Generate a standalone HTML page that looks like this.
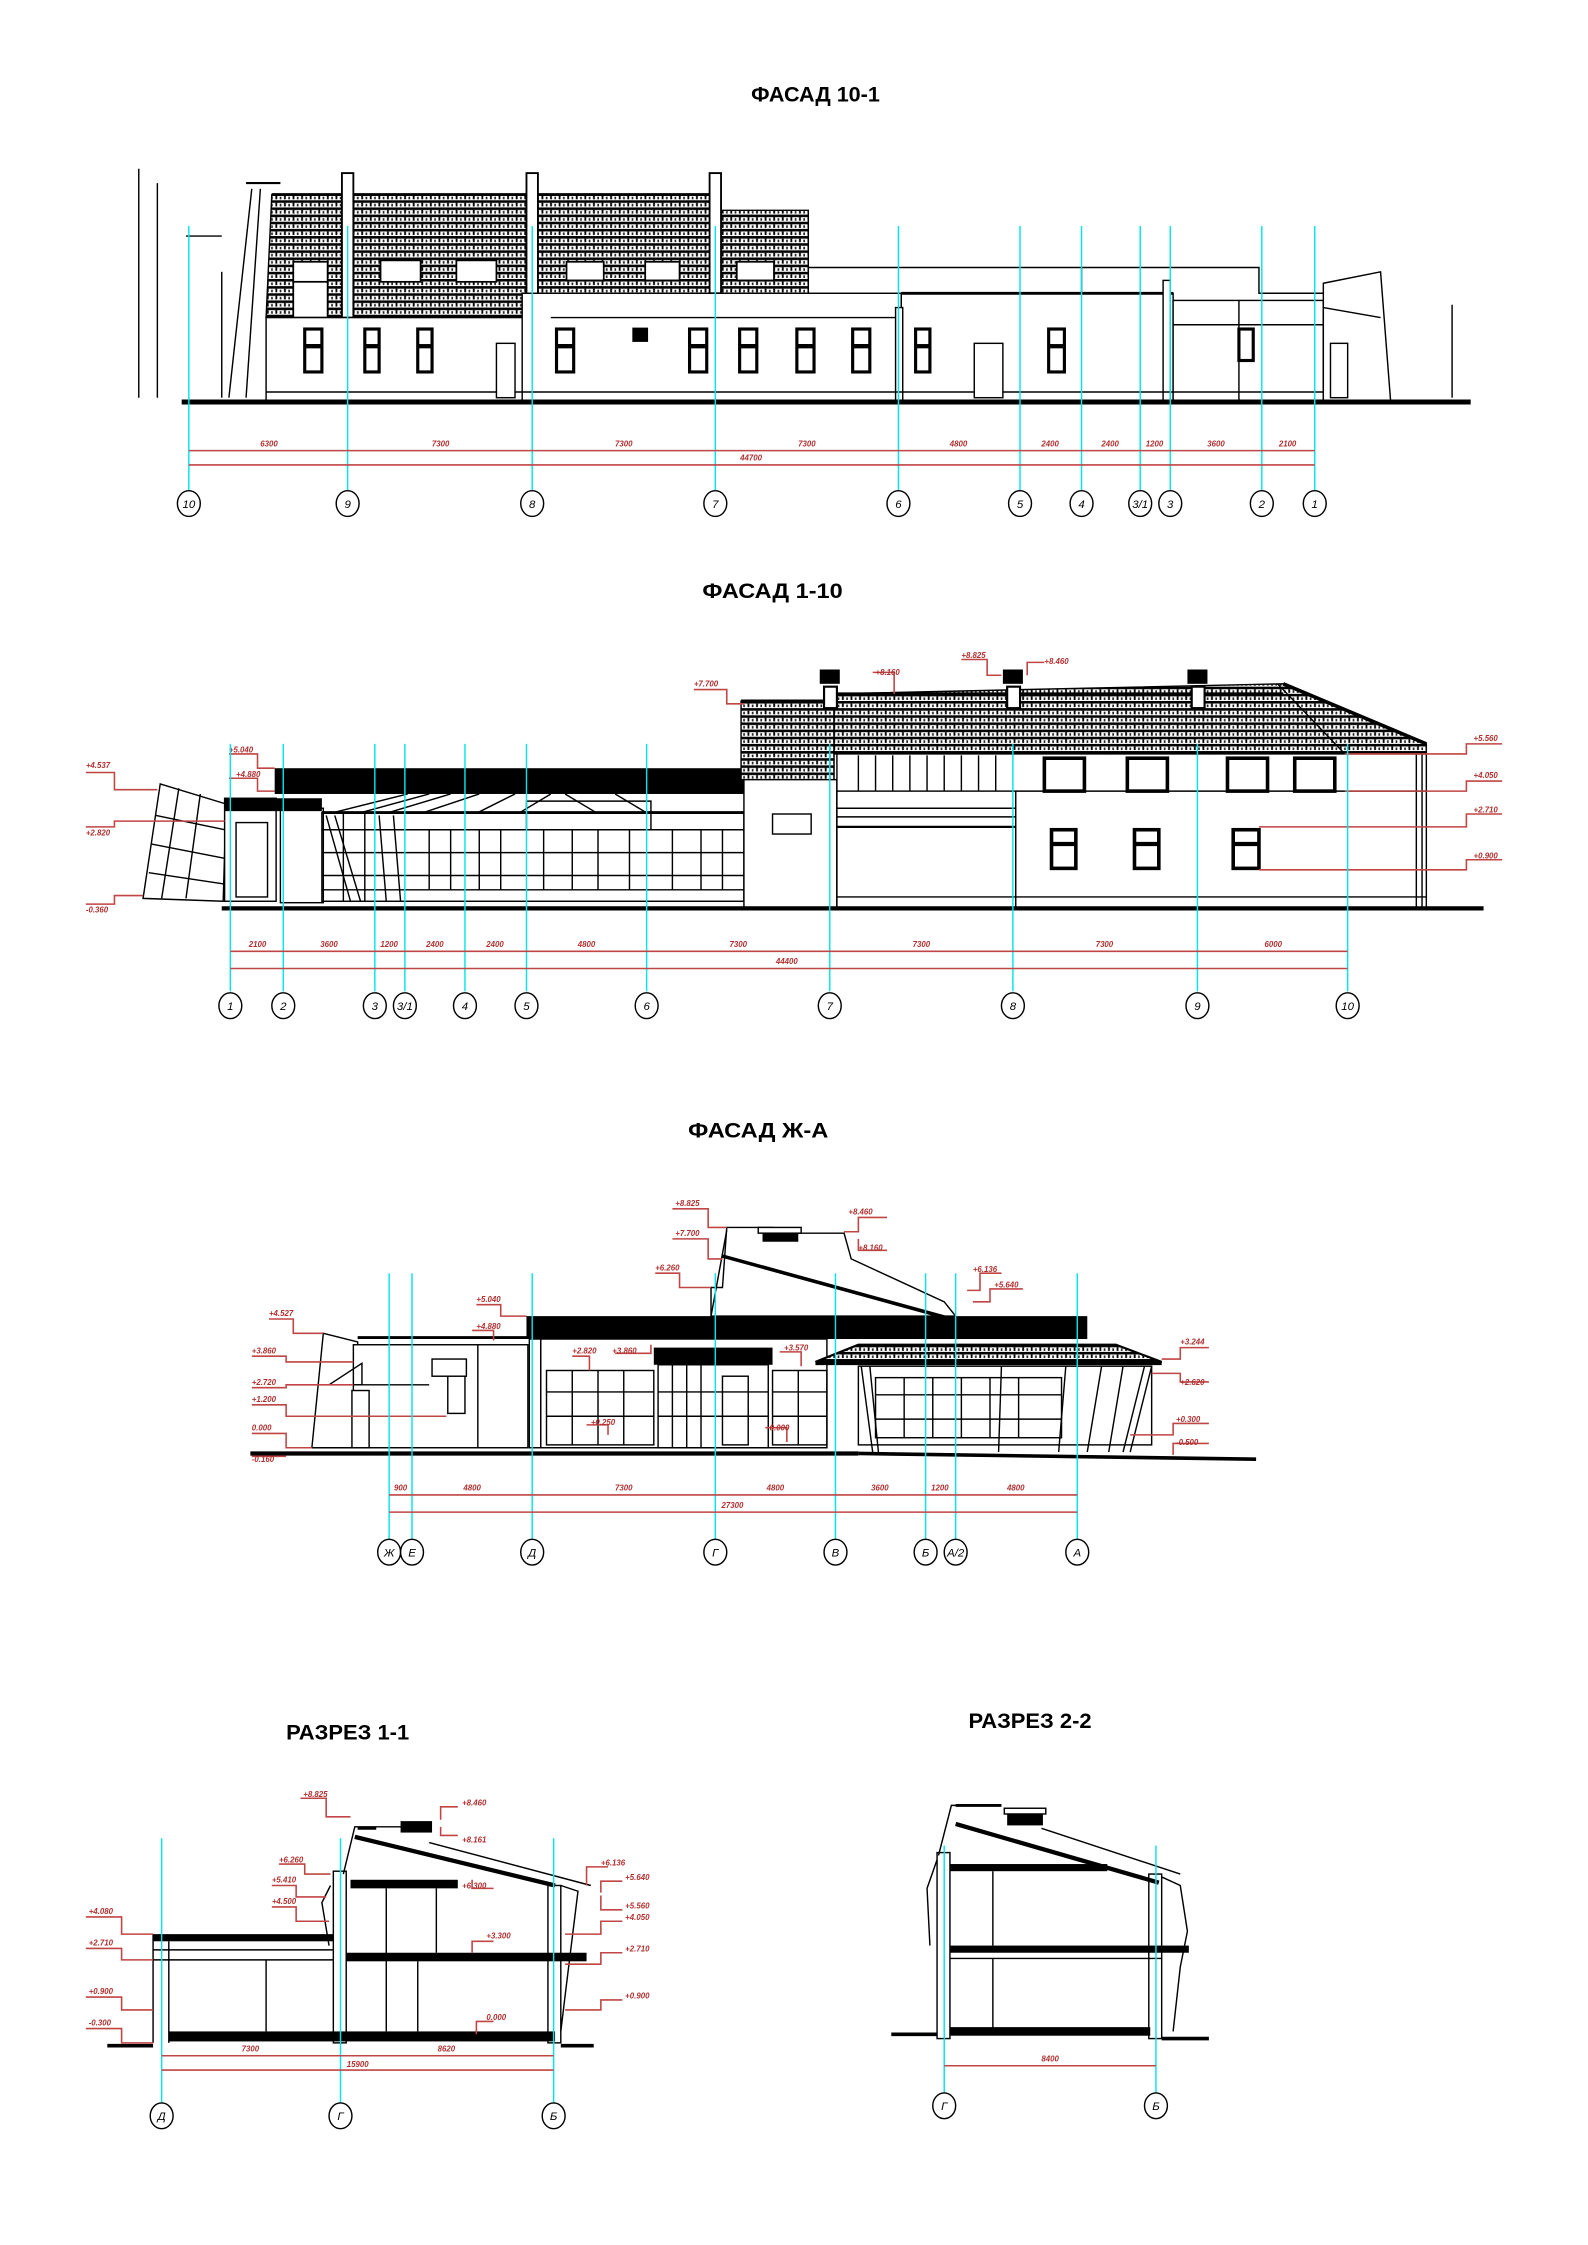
<!DOCTYPE html>
<html><head><meta charset="utf-8"><style>
html,body{margin:0;padding:0;background:#fff}
svg{display:block}
.t{font-family:"Liberation Sans Narrow","Liberation Sans",sans-serif;font-weight:bold;font-size:15px;fill:#000}
.r{font-family:"Liberation Sans Narrow","Liberation Sans",sans-serif;font-size:5.5px;fill:#b03030;font-weight:bold;font-style:italic}
.ax{stroke:#00e5ee;stroke-width:1}
.dm{stroke:#c04545;stroke-width:1.1;fill:none}
.k{stroke:#000;fill:none;stroke-width:1}
.kw{stroke:#000;fill:#fff;stroke-width:1}
.kb{fill:#000}
.c{font-family:"Liberation Sans Narrow","Liberation Sans",sans-serif;font-size:8px;font-style:italic;text-anchor:middle;fill:#000}
</style></head><body>
<svg width="1588" height="2245" viewBox="0 0 1110 1569.3" preserveAspectRatio="none" xmlns="http://www.w3.org/2000/svg">
<defs>
<pattern id="br" width="6" height="5" patternUnits="userSpaceOnUse">
<rect width="6" height="5" fill="#fff"/>
<rect x="0" y="0" width="6" height="1.8" fill="#000"/>
<rect x="0.5" y="1.8" width="1.3" height="2.5" fill="#000"/>
<rect x="3.5" y="2.5" width="1.2" height="1.8" fill="#222"/>
</pattern>
</defs>

<!-- ============ FACADE 10-1 ============ -->
<text class="t" x="570" y="71" text-anchor="middle" textLength="90" lengthAdjust="spacingAndGlyphs">ФАСАД 10-1</text>
<line x1="97" y1="118" x2="97" y2="278" class="k" stroke-width="0.8"/>
<line x1="110" y1="128" x2="110" y2="278" class="k" stroke-width="0.8"/>
<line x1="1015" y1="213" x2="1015" y2="278" class="k" stroke-width="0.8"/>
<polygon points="186,222 190,136 502,136 502,147 565,147 565,205 365,205 365,222" fill="url(#br)" stroke="#000"/>
<line x1="190" y1="136" x2="502" y2="136" stroke="#000" stroke-width="2"/>
<line x1="172" y1="128" x2="196" y2="128" stroke="#000" stroke-width="1.5"/>
<line x1="176" y1="132" x2="160" y2="278" class="k"/>
<line x1="182" y1="132" x2="172" y2="278" class="k"/>
<line x1="130" y1="165" x2="155" y2="165" class="k" stroke-width="1.5"/>
<line x1="155" y1="190" x2="155" y2="278" class="k"/>
<g fill="#fff" stroke="#000" stroke-width="1.2">
<rect x="205" y="183" width="24" height="14"/><rect x="205" y="197" width="24" height="25"/>
<rect x="266" y="182" width="28" height="15"/><rect x="319" y="182" width="28" height="15"/>
<rect x="396" y="183" width="26" height="13"/><rect x="451" y="183" width="24" height="13"/><rect x="515" y="183" width="26" height="13"/>
</g>
<g fill="#fff" stroke="#000" stroke-width="1.3">
<rect x="239" y="121" width="8" height="101"/><rect x="368" y="121" width="8" height="101"/><rect x="496" y="121" width="8" height="84"/>
</g>
<rect x="186" y="222" width="180" height="58" class="kw"/>
<rect x="365" y="205" width="265" height="75" class="kw"/>
<line x1="385" y1="222" x2="820" y2="222" class="k" stroke-width="1.5"/>
<polyline points="565,187 880,187 880,205 925,205" class="k" stroke-width="1.5"/>
<rect x="630" y="205" width="190" height="75" class="kw"/>
<line x1="630" y1="205" x2="820" y2="205" stroke="#000" stroke-width="2"/>
<line x1="756" y1="187" x2="756" y2="205" class="k"/>
<rect x="813" y="196" width="5" height="84" class="kw"/>
<rect x="820" y="210" width="105" height="70" class="kw"/>
<line x1="820" y1="227" x2="925" y2="227" class="k"/>
<line x1="866" y1="210" x2="866" y2="280" class="k"/>
<polygon points="925,198 965,190 972,280 925,280" class="kw"/>
<line x1="925" y1="215" x2="965" y2="222" class="k"/>
<rect x="626" y="215" width="5" height="65" class="kw"/>
<line x1="186" y1="274" x2="925" y2="274" class="k" stroke-width="1.5"/>
<g fill="#fff" stroke="#000" stroke-width="2.2">
<rect x="213" y="230" width="12" height="30"/><rect x="255" y="230" width="10" height="30"/><rect x="292" y="230" width="10" height="30"/>
<rect x="389" y="230" width="12" height="30"/><rect x="482" y="230" width="12" height="30"/><rect x="517" y="230" width="12" height="30"/>
<rect x="557" y="230" width="12" height="30"/><rect x="596" y="230" width="12" height="30"/><rect x="640" y="230" width="10" height="30"/>
<rect x="733" y="230" width="11" height="30"/><rect x="866" y="230" width="10" height="22"/>
</g>
<g stroke="#000" stroke-width="3"><line x1="213" y1="242" x2="225" y2="242"/><line x1="255" y1="242" x2="265" y2="242"/><line x1="292" y1="242" x2="302" y2="242"/><line x1="389" y1="242" x2="401" y2="242"/><line x1="482" y1="242" x2="494" y2="242"/><line x1="517" y1="242" x2="529" y2="242"/><line x1="557" y1="242" x2="569" y2="242"/><line x1="596" y1="242" x2="608" y2="242"/><line x1="640" y1="242" x2="650" y2="242"/><line x1="733" y1="242" x2="744" y2="242"/></g>
<rect x="442" y="229" width="11" height="10" class="kb"/>
<rect x="347" y="240" width="13" height="38" class="kw" stroke-width="1.3"/>
<rect x="681" y="240" width="20" height="38" class="kw" stroke-width="1.3"/>
<rect x="930" y="240" width="12" height="38" class="kw" stroke-width="1.3"/>
<line x1="127" y1="281" x2="1028" y2="281" stroke="#000" stroke-width="3.5"/>
<g class="ax">
<line x1="132" y1="158" x2="132" y2="343"/><line x1="243" y1="158" x2="243" y2="343"/><line x1="372" y1="158" x2="372" y2="343"/><line x1="500" y1="158" x2="500" y2="343"/><line x1="628" y1="158" x2="628" y2="343"/><line x1="713" y1="158" x2="713" y2="343"/><line x1="756" y1="158" x2="756" y2="343"/><line x1="797" y1="158" x2="797" y2="343"/><line x1="818" y1="158" x2="818" y2="343"/><line x1="882" y1="158" x2="882" y2="343"/><line x1="919" y1="158" x2="919" y2="343"/>
</g>
<line x1="132" y1="315" x2="919" y2="315" class="dm"/><line x1="132" y1="325" x2="919" y2="325" class="dm"/>
<g class="r" text-anchor="middle"><text x="188" y="312">6300</text><text x="308" y="312">7300</text><text x="436" y="312">7300</text><text x="564" y="312">7300</text><text x="670" y="312">4800</text><text x="734" y="312">2400</text><text x="776" y="312">2400</text><text x="807" y="312">1200</text><text x="850" y="312">3600</text><text x="900" y="312">2100</text><text x="525" y="322">44700</text></g>
<g fill="#fff" stroke="#000"><ellipse cx="132" cy="352" rx="8" ry="9"/><ellipse cx="243" cy="352" rx="8" ry="9"/><ellipse cx="372" cy="352" rx="8" ry="9"/><ellipse cx="500" cy="352" rx="8" ry="9"/><ellipse cx="628" cy="352" rx="8" ry="9"/><ellipse cx="713" cy="352" rx="8" ry="9"/><ellipse cx="756" cy="352" rx="8" ry="9"/><ellipse cx="797" cy="352" rx="8" ry="9"/><ellipse cx="818" cy="352" rx="8" ry="9"/><ellipse cx="882" cy="352" rx="8" ry="9"/><ellipse cx="919" cy="352" rx="8" ry="9"/></g>
<g class="c"><text x="132" y="355">10</text><text x="243" y="355">9</text><text x="372" y="355">8</text><text x="500" y="355">7</text><text x="628" y="355">6</text><text x="713" y="355">5</text><text x="756" y="355">4</text><text x="797" y="355">3/1</text><text x="818" y="355">3</text><text x="882" y="355">2</text><text x="919" y="355">1</text></g>

<!-- ============ FACADE 1-10 ============ -->
<text class="t" x="540" y="418" text-anchor="middle" textLength="98" lengthAdjust="spacingAndGlyphs">ФАСАД 1-10</text>
<polygon points="112,548 158,562 156,630 100,628" class="kw"/>
<g class="k"><line x1="125" y1="551" x2="113" y2="628"/><line x1="140" y1="555" x2="130" y2="628"/><line x1="109" y1="570" x2="157" y2="580"/><line x1="106" y1="590" x2="157" y2="600"/><line x1="104" y1="610" x2="157" y2="618"/></g>
<rect x="157" y="558" width="36" height="72" class="kw"/>
<rect x="157" y="558" width="68" height="9" class="kb"/>
<g class="k"><rect x="165" y="575" width="22" height="52"/></g>
<rect x="192" y="537" width="330" height="18" class="kb"/>
<g class="k" stroke-width="0.8"><line x1="225" y1="570" x2="285" y2="555"/><line x1="245" y1="570" x2="300" y2="555"/><line x1="265" y1="570" x2="315" y2="555"/><line x1="290" y1="570" x2="335" y2="555"/><line x1="330" y1="570" x2="360" y2="555"/><line x1="360" y1="570" x2="385" y2="555"/><line x1="395" y1="555" x2="420" y2="570"/><line x1="430" y1="555" x2="455" y2="570"/></g>
<rect x="225" y="568" width="295" height="62" class="kw"/>
<line x1="225" y1="568" x2="520" y2="568" stroke="#000" stroke-width="2"/>
<polyline points="368,580 368,560 455,560 455,580" class="k" stroke-width="1.5"/>
<g class="k" stroke-width="1.4">
<line x1="225" y1="580" x2="520" y2="580"/><line x1="225" y1="596" x2="520" y2="596"/><line x1="225" y1="612" x2="520" y2="612"/><line x1="225" y1="622" x2="520" y2="622"/>
<line x1="240" y1="568" x2="240" y2="630"/><line x1="255" y1="568" x2="255" y2="630"/><line x1="300" y1="580" x2="300" y2="622"/><line x1="315" y1="580" x2="315" y2="622"/><line x1="335" y1="580" x2="335" y2="622"/><line x1="350" y1="580" x2="350" y2="622"/><line x1="380" y1="580" x2="380" y2="622"/><line x1="400" y1="580" x2="400" y2="622"/><line x1="418" y1="580" x2="418" y2="622"/><line x1="440" y1="580" x2="440" y2="622"/><line x1="470" y1="580" x2="470" y2="622"/><line x1="490" y1="580" x2="490" y2="622"/><line x1="505" y1="580" x2="505" y2="622"/>
<line x1="228" y1="570" x2="245" y2="630"/><line x1="234" y1="570" x2="252" y2="630"/><line x1="265" y1="570" x2="270" y2="630"/><line x1="275" y1="570" x2="280" y2="630"/>
</g>
<rect x="196" y="565" width="30" height="66" class="k"/>
<rect x="518" y="490" width="65" height="55" fill="url(#br)" stroke="#000"/>
<line x1="518" y1="490" x2="583" y2="490" stroke="#000" stroke-width="2"/>
<rect x="520" y="545" width="65" height="90" class="kw"/>
<rect x="540" y="569" width="27" height="14" class="kw" stroke-width="2.2"/>
<polygon points="583,485 897,478 997,520 997,527 583,527" fill="url(#br)" stroke="#000"/>
<line x1="583" y1="485" x2="897" y2="485" stroke="#000" stroke-width="2"/>
<line x1="897" y1="478" x2="997" y2="520" stroke="#000" stroke-width="2.5"/>
<line x1="893" y1="478" x2="940" y2="527" class="k"/>
<g fill="#fff" stroke="#000" stroke-width="1.5"><rect x="576" y="480" width="9" height="15"/><rect x="704" y="480" width="9" height="15"/><rect x="833" y="480" width="9" height="15"/></g>
<g class="kb"><rect x="573" y="468" width="14" height="10"/><rect x="701" y="468" width="14" height="10"/><rect x="830" y="468" width="14" height="10"/></g>
<rect x="585" y="527" width="412" height="108" class="kw"/>
<rect x="585" y="553" width="125" height="82" class="kw"/>
<line x1="710" y1="553" x2="997" y2="553" class="k" stroke-width="1.5"/>
<line x1="585" y1="578" x2="710" y2="578" stroke="#000" stroke-width="1.5"/>
<g class="k" stroke-width="1.5"><line x1="585" y1="565" x2="710" y2="565"/><line x1="585" y1="571" x2="710" y2="571"/></g>
<g class="k" stroke-width="2"><line x1="600" y1="528" x2="600" y2="553"/><line x1="612" y1="528" x2="612" y2="553"/><line x1="624" y1="528" x2="624" y2="553"/><line x1="636" y1="528" x2="636" y2="553"/><line x1="648" y1="528" x2="648" y2="553"/><line x1="660" y1="528" x2="660" y2="553"/><line x1="672" y1="528" x2="672" y2="553"/><line x1="684" y1="528" x2="684" y2="553"/><line x1="696" y1="528" x2="696" y2="553"/></g>
<g fill="#fff" stroke="#000" stroke-width="2.5"><rect x="730" y="530" width="28" height="23"/><rect x="788" y="530" width="28" height="23"/><rect x="858" y="530" width="28" height="23"/><rect x="905" y="530" width="28" height="23"/></g>
<g fill="#fff" stroke="#000" stroke-width="2.5"><rect x="735" y="580" width="17" height="27"/><rect x="793" y="580" width="17" height="27"/><rect x="862" y="580" width="18" height="27"/></g>
<g stroke="#000" stroke-width="3"><line x1="735" y1="590" x2="752" y2="590"/><line x1="793" y1="590" x2="810" y2="590"/><line x1="862" y1="590" x2="880" y2="590"/></g>
<g class="k"><line x1="990" y1="527" x2="990" y2="635"/><line x1="994" y1="527" x2="994" y2="635"/><line x1="585" y1="627" x2="997" y2="627"/></g>
<line x1="155" y1="635" x2="1037" y2="635" stroke="#000" stroke-width="3"/>
<g class="dm"><polyline points="60,540 80,540 80,552 110,552"/><polyline points="60,578 80,578 80,574 157,574"/><polyline points="60,632 80,632 80,626 100,626"/><polyline points="160,527 180,527 180,537 192,537"/><polyline points="160,544 180,544 180,553 192,553"/><polyline points="485,482 508,482 508,492 520,492"/><polyline points="610,470 625,470 625,485"/><polyline points="672,461 690,461 690,472 700,472"/><polyline points="730,463 718,463 718,472"/><polyline points="1050,520 1025,520 1025,527 940,527"/><polyline points="1050,546 1025,546 1025,553 940,553"/><polyline points="1050,569 1025,569 1025,578 880,578"/><polyline points="1050,601 1025,601 1025,608 880,608"/></g>
<g class="r"><text x="60" y="537">+4.537</text><text x="60" y="584">+2.820</text><text x="60" y="638">-0.360</text><text x="160" y="526">+5.040</text><text x="165" y="543">+4.880</text><text x="485" y="480">+7.700</text><text x="612" y="472">+8.160</text><text x="672" y="460">+8.825</text><text x="730" y="464">+8.460</text><text x="1030" y="518">+5.560</text><text x="1030" y="544">+4.050</text><text x="1030" y="568">+2.710</text><text x="1030" y="600">+0.900</text></g>
<g class="ax"><line x1="161" y1="520" x2="161" y2="693"/><line x1="198" y1="520" x2="198" y2="693"/><line x1="262" y1="520" x2="262" y2="693"/><line x1="283" y1="520" x2="283" y2="693"/><line x1="325" y1="520" x2="325" y2="693"/><line x1="368" y1="520" x2="368" y2="693"/><line x1="452" y1="520" x2="452" y2="693"/><line x1="580" y1="520" x2="580" y2="693"/><line x1="708" y1="520" x2="708" y2="693"/><line x1="837" y1="520" x2="837" y2="693"/><line x1="942" y1="520" x2="942" y2="693"/></g>
<line x1="161" y1="665" x2="942" y2="665" class="dm"/><line x1="161" y1="677" x2="942" y2="677" class="dm"/>
<g class="r" text-anchor="middle"><text x="180" y="662">2100</text><text x="230" y="662">3600</text><text x="272" y="662">1200</text><text x="304" y="662">2400</text><text x="346" y="662">2400</text><text x="410" y="662">4800</text><text x="516" y="662">7300</text><text x="644" y="662">7300</text><text x="772" y="662">7300</text><text x="890" y="662">6000</text><text x="550" y="674">44400</text></g>
<g fill="#fff" stroke="#000"><ellipse cx="161" cy="703" rx="8" ry="9"/><ellipse cx="198" cy="703" rx="8" ry="9"/><ellipse cx="262" cy="703" rx="8" ry="9"/><ellipse cx="283" cy="703" rx="8" ry="9"/><ellipse cx="325" cy="703" rx="8" ry="9"/><ellipse cx="368" cy="703" rx="8" ry="9"/><ellipse cx="452" cy="703" rx="8" ry="9"/><ellipse cx="580" cy="703" rx="8" ry="9"/><ellipse cx="708" cy="703" rx="8" ry="9"/><ellipse cx="837" cy="703" rx="8" ry="9"/><ellipse cx="942" cy="703" rx="8" ry="9"/></g>
<g class="c"><text x="161" y="706">1</text><text x="198" y="706">2</text><text x="262" y="706">3</text><text x="283" y="706">3/1</text><text x="325" y="706">4</text><text x="368" y="706">5</text><text x="452" y="706">6</text><text x="580" y="706">7</text><text x="708" y="706">8</text><text x="837" y="706">9</text><text x="942" y="706">10</text></g>

<!-- ============ FACADE Ж-А ============ -->
<text class="t" x="530" y="795" text-anchor="middle" textLength="98" lengthAdjust="spacingAndGlyphs">ФАСАД Ж-А</text>
<polygon points="226,932 250,938 252,1012 218,1012" class="kw"/>
<rect x="247" y="940" width="122" height="72" class="kw"/>
<line x1="250" y1="935" x2="369" y2="935" stroke="#000" stroke-width="2"/>
<line x1="247" y1="968" x2="300" y2="968" class="k"/>
<polygon points="230,968 253,953 253,968" class="k"/>
<rect x="302" y="950" width="24" height="12" class="kw"/>
<rect x="313" y="962" width="12" height="26" class="kw" stroke-width="2"/>
<rect x="246" y="972" width="12" height="40" class="kw"/>
<line x1="334" y1="940" x2="334" y2="1012" class="k"/>
<polygon points="508,858 540,858 540,862 590,862 595,880 660,910 668,920 515,920 497,920 497,900 505,900" class="kw"/>
<line x1="508" y1="860" x2="497" y2="920" class="k" stroke-width="1.5"/>
<line x1="505" y1="878" x2="665" y2="922" stroke="#000" stroke-width="2.5"/>
<rect x="533" y="862" width="25" height="6" class="kb"/>
<rect x="530" y="858" width="30" height="4" class="kw"/>
<rect x="368" y="920" width="392" height="16" class="kb"/>
<rect x="370" y="936" width="8" height="76" class="kw"/>
<rect x="378" y="936" width="200" height="76" class="kw"/>
<g class="k" stroke-width="1.5"><rect x="382" y="958" width="75" height="52"/><line x1="382" y1="973" x2="457" y2="973"/><line x1="382" y1="990" x2="457" y2="990"/><line x1="400" y1="958" x2="400" y2="1010"/><line x1="418" y1="958" x2="418" y2="1010"/><line x1="436" y1="958" x2="436" y2="1010"/>
<rect x="540" y="958" width="38" height="52"/><line x1="540" y1="973" x2="578" y2="973"/><line x1="540" y1="990" x2="578" y2="990"/><line x1="558" y1="958" x2="558" y2="1010"/></g>
<rect x="457" y="942" width="83" height="12" class="kb"/>
<g class="k" stroke-width="1.5"><rect x="460" y="954" width="77" height="58"/><line x1="470" y1="954" x2="470" y2="1012"/><line x1="480" y1="954" x2="480" y2="1012"/><line x1="490" y1="954" x2="490" y2="1012"/><rect x="505" y="962" width="18" height="48"/><line x1="460" y1="973" x2="537" y2="973"/><line x1="460" y1="990" x2="537" y2="990"/></g>
<polygon points="570,952 600,940 780,940 812,952" fill="url(#br)" stroke="#000" stroke-width="1.5"/>
<line x1="570" y1="953" x2="812" y2="953" stroke="#000" stroke-width="2.5"/>
<rect x="600" y="955" width="205" height="55" class="kw"/>
<g class="k" stroke-width="1.5"><rect x="612" y="963" width="130" height="42"/><line x1="612" y1="975" x2="742" y2="975"/><line x1="612" y1="992" x2="742" y2="992"/><line x1="632" y1="963" x2="632" y2="1005"/><line x1="652" y1="963" x2="652" y2="1005"/><line x1="672" y1="963" x2="672" y2="1005"/><line x1="692" y1="963" x2="692" y2="1005"/><line x1="712" y1="963" x2="712" y2="1005"/>
<line x1="602" y1="955" x2="610" y2="1015"/><line x1="608" y1="955" x2="614" y2="1015"/><line x1="700" y1="955" x2="698" y2="1015"/><line x1="745" y1="955" x2="740" y2="1015"/><line x1="770" y1="955" x2="760" y2="1015"/><line x1="785" y1="955" x2="775" y2="1015"/><line x1="800" y1="955" x2="785" y2="1015"/><line x1="805" y1="955" x2="790" y2="1015"/></g>
<line x1="175" y1="1016" x2="600" y2="1016" stroke="#000" stroke-width="3"/>
<line x1="600" y1="1016" x2="878" y2="1020" stroke="#000" stroke-width="2.5"/>
<g class="dm"><polyline points="188,922 205,922 205,932 226,932"/><polyline points="176,948 200,948 200,952 247,952"/><polyline points="176,970 200,970 200,968 247,968"/><polyline points="176,982 200,982 200,990 312,990"/><polyline points="176,1002 200,1002 200,1012 218,1012"/><polyline points="176,1018 200,1018"/><polyline points="333,912 350,912 350,920 368,920"/><polyline points="330,930 345,930 345,937"/><polyline points="470,845 495,845 495,858 508,858"/><polyline points="470,866 495,866 495,880 505,880"/><polyline points="458,890 475,890 475,900 497,900"/><polyline points="620,851 600,851 600,861 590,861"/><polyline points="620,874 600,874 600,866"/><polyline points="700,890 685,890 685,902 676,902"/><polyline points="715,901 692,901 692,910 680,910"/><polyline points="845,942 825,942 825,950 812,950"/><polyline points="845,966 825,966 825,960 805,960"/><polyline points="845,995 820,995 820,1003 790,1003"/><polyline points="845,1009 820,1009 820,1017"/><polyline points="400,948 412,948 412,958"/><polyline points="430,946 455,946 455,940"/><polyline points="545,945 560,945 560,955"/><polyline points="410,996 425,996 425,1003"/><polyline points="535,998 550,998 550,1008"/></g>
<g class="r"><text x="188" y="920">+4.527</text><text x="176" y="946">+3.860</text><text x="176" y="968">+2.720</text><text x="176" y="980">+1.200</text><text x="176" y="1000">0.000</text><text x="176" y="1022">-0.160</text><text x="333" y="910">+5.040</text><text x="333" y="929">+4.880</text><text x="472" y="843">+8.825</text><text x="472" y="864">+7.700</text><text x="458" y="888">+6.260</text><text x="593" y="849">+8.460</text><text x="600" y="874">+8.160</text><text x="680" y="889">+6.136</text><text x="695" y="900">+5.640</text><text x="825" y="940">+3.244</text><text x="825" y="968">+2.620</text><text x="822" y="994">+0.300</text><text x="822" y="1010">-0.500</text><text x="400" y="946">+2.820</text><text x="428" y="946">+3.860</text><text x="548" y="944">+3.570</text><text x="413" y="996">+0.250</text><text x="538" y="1000">0.000</text></g>
<g class="ax"><line x1="272" y1="890" x2="272" y2="1076"/><line x1="288" y1="890" x2="288" y2="1076"/><line x1="372" y1="890" x2="372" y2="1076"/><line x1="500" y1="890" x2="500" y2="1076"/><line x1="584" y1="890" x2="584" y2="1076"/><line x1="647" y1="890" x2="647" y2="1076"/><line x1="668" y1="890" x2="668" y2="1076"/><line x1="753" y1="890" x2="753" y2="1076"/></g>
<line x1="272" y1="1045" x2="753" y2="1045" class="dm"/><line x1="272" y1="1057" x2="753" y2="1057" class="dm"/>
<g class="r" text-anchor="middle"><text x="280" y="1042">900</text><text x="330" y="1042">4800</text><text x="436" y="1042">7300</text><text x="542" y="1042">4800</text><text x="615" y="1042">3600</text><text x="657" y="1042">1200</text><text x="710" y="1042">4800</text><text x="512" y="1054">27300</text></g>
<g fill="#fff" stroke="#000"><ellipse cx="272" cy="1085" rx="8" ry="9"/><ellipse cx="288" cy="1085" rx="8" ry="9"/><ellipse cx="372" cy="1085" rx="8" ry="9"/><ellipse cx="500" cy="1085" rx="8" ry="9"/><ellipse cx="584" cy="1085" rx="8" ry="9"/><ellipse cx="647" cy="1085" rx="8" ry="9"/><ellipse cx="668" cy="1085" rx="8" ry="9"/><ellipse cx="753" cy="1085" rx="8" ry="9"/></g>
<g class="c"><text x="272" y="1088">Ж</text><text x="288" y="1088">Е</text><text x="372" y="1088">Д</text><text x="500" y="1088">Г</text><text x="584" y="1088">В</text><text x="647" y="1088">Б</text><text x="668" y="1088">А/2</text><text x="753" y="1088">А</text></g>

<!-- ============ SECTION 1-1 ============ -->
<text class="t" x="243" y="1216" text-anchor="middle" textLength="86" lengthAdjust="spacingAndGlyphs">РАЗРЕЗ 1-1</text>
<rect x="107" y="1352" width="135" height="5" class="kb"/>
<g class="k"><line x1="107" y1="1352" x2="107" y2="1428"/><line x1="118" y1="1357" x2="118" y2="1428"/><line x1="107" y1="1363" x2="238" y2="1363"/><line x1="107" y1="1370" x2="238" y2="1370"/><line x1="186" y1="1370" x2="186" y2="1420"/></g>
<rect x="233" y="1308" width="9" height="120" class="kw"/>
<rect x="383" y="1318" width="9" height="110" class="kw"/>
<rect x="242" y="1365" width="168" height="6" class="kb"/>
<rect x="245" y="1314" width="75" height="6" class="kb"/>
<g class="k"><line x1="270" y1="1320" x2="270" y2="1420"/><line x1="305" y1="1320" x2="305" y2="1365"/><line x1="292" y1="1371" x2="292" y2="1420"/></g>
<polyline points="240,1310 248,1277 282,1277" class="k" stroke-width="1.5"/>
<line x1="250" y1="1278" x2="263" y2="1278" stroke="#000" stroke-width="2"/>
<rect x="280" y="1273" width="22" height="8" class="kb"/>
<line x1="248" y1="1284" x2="388" y2="1318" stroke="#000" stroke-width="3"/>
<line x1="300" y1="1288" x2="413" y2="1318" class="k" stroke-width="1.2"/>
<polyline points="392,1318 404,1322 395,1395 392,1420" class="k"/>
<polyline points="231,1318 225,1330 230,1360" class="k"/>
<rect x="118" y="1420" width="270" height="7" class="kb"/>
<line x1="75" y1="1430" x2="107" y2="1430" stroke="#000" stroke-width="2.5"/>
<line x1="392" y1="1430" x2="415" y2="1430" stroke="#000" stroke-width="2.5"/>
<g class="dm"><polyline points="60,1340 85,1340 85,1352 107,1352"/><polyline points="60,1362 85,1362 85,1370 107,1370"/><polyline points="60,1396 85,1396 85,1405 107,1405"/><polyline points="60,1418 85,1418 85,1428 107,1428"/><polyline points="210,1257 228,1257 228,1270 245,1270"/><polyline points="320,1263 308,1263 308,1272"/><polyline points="320,1283 308,1283 308,1277"/><polyline points="195,1303 213,1303 213,1310 231,1310"/><polyline points="190,1318 207,1318 207,1326 228,1326"/><polyline points="190,1333 207,1333 207,1343 230,1343"/><polyline points="345,1320 330,1320 330,1314"/><polyline points="345,1357 330,1357 330,1365"/><polyline points="425,1305 410,1305 410,1318"/><polyline points="435,1315 420,1315 420,1323"/><polyline points="435,1335 420,1335 420,1325"/><polyline points="435,1343 420,1343 420,1352 395,1352"/><polyline points="435,1365 420,1365 420,1373 395,1373"/><polyline points="435,1398 420,1398 420,1405 395,1405"/><polyline points="345,1413 333,1413 333,1422"/></g>
<g class="r"><text x="62" y="1338">+4.080</text><text x="62" y="1360">+2.710</text><text x="62" y="1394">+0.900</text><text x="62" y="1416">-0.300</text><text x="212" y="1256">+8.825</text><text x="323" y="1262">+8.460</text><text x="323" y="1288">+8.161</text><text x="195" y="1302">+6.260</text><text x="190" y="1316">+5.410</text><text x="190" y="1331">+4.500</text><text x="323" y="1320">+6.300</text><text x="340" y="1355">+3.300</text><text x="420" y="1304">+6.136</text><text x="437" y="1314">+5.640</text><text x="437" y="1334">+5.560</text><text x="437" y="1342">+4.050</text><text x="437" y="1364">+2.710</text><text x="437" y="1397">+0.900</text><text x="340" y="1412">0.000</text></g>
<g class="ax"><line x1="113" y1="1285" x2="113" y2="1470"/><line x1="238" y1="1285" x2="238" y2="1470"/><line x1="387" y1="1285" x2="387" y2="1470"/></g>
<line x1="113" y1="1437" x2="387" y2="1437" class="dm"/><line x1="113" y1="1447" x2="387" y2="1447" class="dm"/>
<g class="r" text-anchor="middle"><text x="175" y="1434">7300</text><text x="312" y="1434">8620</text><text x="250" y="1445">15900</text></g>
<g fill="#fff" stroke="#000"><ellipse cx="113" cy="1479" rx="8" ry="9"/><ellipse cx="238" cy="1479" rx="8" ry="9"/><ellipse cx="387" cy="1479" rx="8" ry="9"/></g>
<g class="c"><text x="113" y="1482">Д</text><text x="238" y="1482">Г</text><text x="387" y="1482">Б</text></g>

<!-- ============ SECTION 2-2 ============ -->
<text class="t" x="720" y="1208" text-anchor="middle" textLength="86" lengthAdjust="spacingAndGlyphs">РАЗРЕЗ 2-2</text>
<rect x="655" y="1295" width="9" height="130" class="kw"/>
<rect x="803" y="1310" width="9" height="115" class="kw"/>
<polyline points="656,1297 665,1262 700,1262" class="k" stroke-width="1.5"/>
<line x1="668" y1="1262" x2="700" y2="1262" stroke="#000" stroke-width="2"/>
<rect x="704" y="1268" width="25" height="8" class="kb"/>
<rect x="702" y="1264" width="29" height="4" class="kw"/>
<line x1="668" y1="1275" x2="810" y2="1316" stroke="#000" stroke-width="3"/>
<line x1="728" y1="1278" x2="825" y2="1310" class="k" stroke-width="1.2"/>
<rect x="664" y="1303" width="110" height="5" class="kb"/>
<rect x="664" y="1360" width="167" height="5" class="kb"/>
<line x1="664" y1="1369" x2="812" y2="1369" class="k"/>
<g class="k"><line x1="694" y1="1308" x2="694" y2="1360"/><line x1="694" y1="1369" x2="694" y2="1418"/></g>
<polyline points="812,1312 825,1318 830,1350 825,1375 820,1420" class="k"/>
<polyline points="655,1300 648,1320 650,1360" class="k"/>
<rect x="664" y="1417" width="140" height="6" class="kb"/>
<line x1="623" y1="1422" x2="655" y2="1422" stroke="#000" stroke-width="2.5"/>
<line x1="812" y1="1425" x2="845" y2="1425" stroke="#000" stroke-width="2.5"/>
<g class="ax"><line x1="660" y1="1290" x2="660" y2="1464"/><line x1="808" y1="1290" x2="808" y2="1464"/></g>
<line x1="660" y1="1444" x2="808" y2="1444" class="dm"/>
<text class="r" x="734" y="1441" text-anchor="middle">8400</text>
<g fill="#fff" stroke="#000"><ellipse cx="660" cy="1472" rx="8" ry="9"/><ellipse cx="808" cy="1472" rx="8" ry="9"/></g>
<g class="c"><text x="660" y="1475">Г</text><text x="808" y="1475">Б</text></g>
</svg>
</body></html>
